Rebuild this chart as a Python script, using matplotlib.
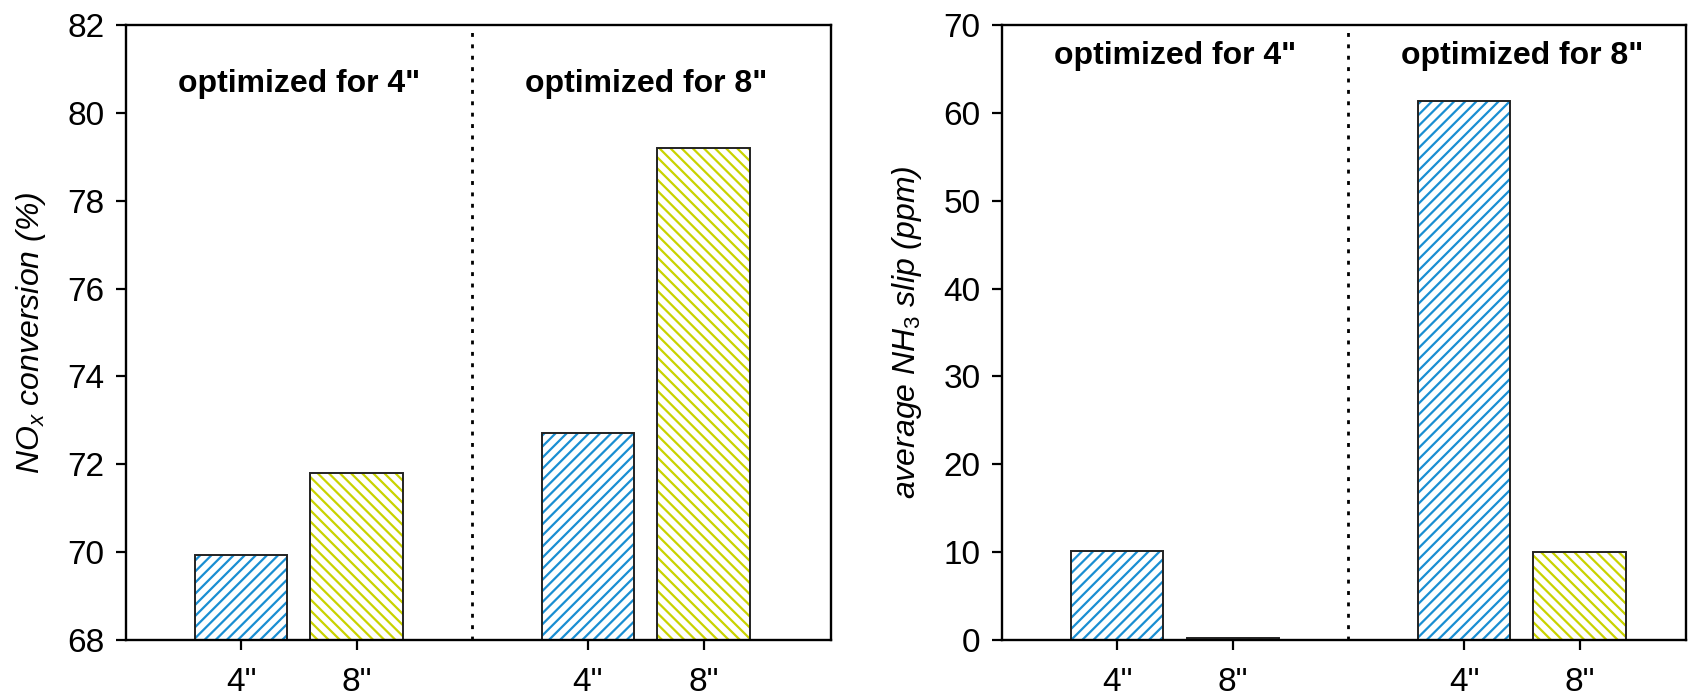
import numpy as np
import matplotlib
matplotlib.use('Agg')
import matplotlib.pyplot as plt

plt.rcParams['font.family'] = ['Liberation Sans', 'DejaVu Sans']
plt.rcParams['mathtext.fontset'] = 'custom'
plt.rcParams['mathtext.rm'] = 'Liberation Sans'
plt.rcParams['mathtext.it'] = 'Liberation Sans:italic'
plt.rcParams['hatch.linewidth'] = 0.8

# bar positions: two groups, each with a 4" and an 8" catalyst
x_pos = [1, 2, 4, 5]
tick_labels = ['4"', '8"', '4"', '8"']
group_labels = ['optimized for 4"', 'optimized for 8"']
group_centers = [1.5, 4.5]

nox_conv = [69.94, 71.81, 72.71, 79.2]
nh3_slip = [10.1, 0.25, 61.4, 10.05]

blue = '#1a8ed2'
yellow = '#c9d300'
fill_colors = [blue, yellow, blue, yellow]
hatches = ['//////', '\\' * 6, '//////', '\\' * 6]

fig = plt.figure(figsize=(8.48, 3.475), dpi=200)
ax1 = fig.add_axes([0.074, 0.0791, 0.4158, 0.885])
ax2 = fig.add_axes([0.5906, 0.0791, 0.4035, 0.885])


def draw_bars(ax, vals, bottom):
    for xi, v, c, h in zip(x_pos, vals, fill_colors, hatches):
        ax.bar(xi, v - bottom, bottom=bottom, width=0.8, color='white',
               edgecolor=c, hatch=h, linewidth=0)
        ax.bar(xi, v - bottom, bottom=bottom, width=0.8, fill=False,
               edgecolor='#222222', linewidth=0.7)


draw_bars(ax1, nox_conv, 68)
draw_bars(ax2, nh3_slip, 0)

ax1.set_ylim(68, 82)
ax1.set_yticks(np.arange(68, 83, 2))
ax1.set_xlim(0, 6.1)
ax2.set_ylim(0, 70)
ax2.set_yticks(np.arange(0, 71, 10))
ax2.set_xlim(0, 5.92)

ax1.set_ylabel(r'$NO_x$ conversion (%)', fontsize=11.5, style='italic', labelpad=7)
ax2.set_ylabel(r'average $NH_3$ slip (ppm)', fontsize=11.5, style='italic', labelpad=7)

for ax, ytxt in [(ax1, 80.65), (ax2, 66.5)]:
    ax.set_xticks(x_pos)
    ax.set_xticklabels(tick_labels)
    ax.tick_params(axis='both', direction='out', length=3.6, width=0.8,
                   labelsize=12, pad=4)
    ax.tick_params(axis='x', pad=6)
    for s in ax.spines.values():
        s.set_linewidth(0.85)
    ax.axvline(3, color='black', linestyle=(0, (1.4, 2.7)), linewidth=1.0)
    for gx, gl in zip(group_centers, group_labels):
        ax.text(gx, ytxt, gl, ha='center', va='center', fontsize=11.5,
                fontweight='bold')

fig.savefig('out.png', dpi=200)
